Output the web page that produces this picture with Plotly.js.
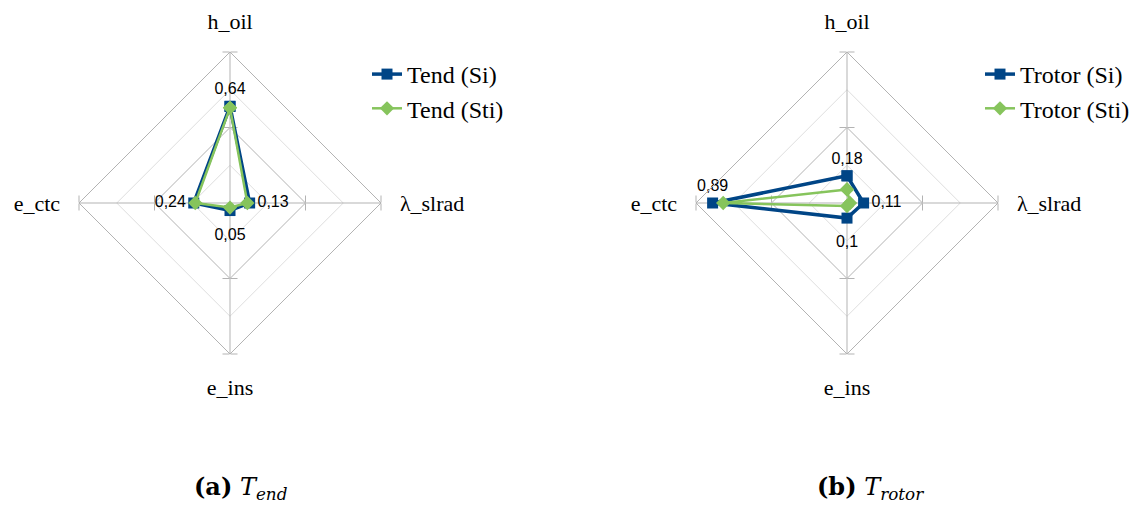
<!DOCTYPE html>
<html>
<head>
<meta charset="utf-8">
<script src="https://cdn.plot.ly/plotly-3.0.1.min.js"></script>
<style>html,body{margin:0;padding:0;background:#fff;}#chart{width:1136px;height:507px;}</style>
</head>
<body>
<div id="chart"></div>
<script>
// ---- data ----
const categories = ['h_oil', 'λ_slrad', 'e_ins', 'e_ctc'];
const tendSi = [0.64, 0.13, 0.05, 0.24];
const tendSti = [0.63, 0.115, 0.03, 0.23];
const trotorSi = [0.18, 0.11, 0.10, 0.89];
const trotorSti = [0.09, 0.02, 0.02, 0.82];
const seriesNamesLeft = ['Tend (Si)', 'Tend (Sti)'];
const seriesNamesRight = ['Trotor (Si)', 'Trotor (Sti)'];
const captions = ['<b>(a)</b> <i>T<sub>end</sub></i>', '<b>(b)</b> <i>T<sub>rotor</sub></i>'];

// ---- style ----
const BLUE = '#004586', GREEN = '#86c45c';
const DARK = '#b3b3b3', LIGHT = '#dedede';
const W = 1136, H = 507, R = 151;
const centers = [[230, 203], [847, 203]];
const serif = 'Liberation Serif, Times New Roman, serif';
const capSerif = 'DejaVu Serif, serif';
const sans = 'Liberation Sans, Arial, sans-serif';

function fmt(v) { return String(v).replace('.', ','); }
function closed(a) { return a.concat([a[0]]); }

const data = [];
const layout = {
  width: W, height: H, margin: {l: 0, r: 0, t: 0, b: 0},
  paper_bgcolor: '#fff', showlegend: true, annotations: []
};

let pid = 1;
function pname(n) { return n === 1 ? 'polar' : 'polar' + n; }
function dummy(id) {
  return {type: 'scatterpolar', r: categories.map(() => 0), theta: categories.slice(), subplot: id,
    mode: 'markers', marker: {size: 1, opacity: 0}, showlegend: false, hoverinfo: 'skip'};
}

function buildChart(ci, si, sti, names, labelPos, legendKey, legendX) {
  const [cx, cy] = centers[ci];
  const domain = {x: [(cx - R) / W, (cx + R) / W], y: [1 - (cy + R) / H, 1 - (cy - R) / H]};
  const angBase = {type: 'category', categoryorder: 'array', categoryarray: categories, direction: 'clockwise', rotation: 90};
  // light grid polar
  let id = pname(pid++);
  layout[id] = {
    domain: domain, gridshape: 'linear', bgcolor: 'rgba(0,0,0,0)',
    radialaxis: {range: [0, 1], tickvals: [0.25, 0.75], showticklabels: false, ticks: '', showline: false, gridcolor: LIGHT, gridwidth: 1},
    angularaxis: Object.assign({}, angBase, {showgrid: false, showline: false, showticklabels: false, ticks: ''})
  };
  data.push(dummy(id));
  // tick overlays
  [0, 90, 180, 270].forEach(a => {
    ['clockwise', 'counterclockwise'].forEach(side => {
      const tid = pname(pid++);
      layout[tid] = {
        domain: domain, gridshape: 'linear', bgcolor: 'rgba(0,0,0,0)',
        radialaxis: {range: [0, 1], angle: a, side: side, tickvals: [0.5, 1], ticks: 'outside', ticklen: 7, tickwidth: 1, tickcolor: DARK, showticklabels: false, showline: false, showgrid: false},
        angularaxis: Object.assign({}, angBase, {showgrid: false, showline: false, showticklabels: false, ticks: ''})
      };
      data.push(dummy(tid));
    });
  });
  // main polar
  id = pname(pid++);
  layout[id] = {
    domain: domain, gridshape: 'linear', bgcolor: 'rgba(0,0,0,0)',
    radialaxis: {range: [0, 1], tickvals: [0.5, 1], showticklabels: false, ticks: '', showline: false, gridcolor: DARK, gridwidth: 1},
    angularaxis: Object.assign({}, angBase, {
      showgrid: true, gridcolor: DARK, gridwidth: 1, showline: true, linecolor: DARK, linewidth: 1,
      ticks: 'outside', ticklen: 14, tickcolor: 'rgba(0,0,0,0)',
      tickfont: {family: serif, size: 22, color: '#000'}
    })
  };
  const th = closed(categories);
  data.push({
    type: 'scatterpolar', subplot: id, name: names[0], legend: legendKey, legendgroup: names[0],
    r: closed(si), theta: th, mode: 'lines+markers',
    line: {color: BLUE, width: 3.5}, marker: {symbol: 'square', size: 11, color: BLUE}
  });
  data.push({
    type: 'scatterpolar', subplot: id, name: names[1], legend: legendKey, legendgroup: names[1],
    r: closed(sti), theta: th, mode: 'lines+markers',
    line: {color: GREEN, width: 2.5}, marker: {symbol: 'diamond', size: 11, color: GREEN}
  });
  // value labels of the Si series (invisible markers only set the label offset)
  data.push({
    type: 'scatterpolar', subplot: id, showlegend: false, hoverinfo: 'skip',
    r: si, theta: categories, mode: 'markers+text',
    marker: {size: labelPos.map(p => p.indexOf('bottom') === 0 ? 26 : 11), opacity: 0},
    text: si.map(fmt), textposition: labelPos,
    textfont: {family: sans, size: 16, color: '#000'}
  });
  layout[legendKey] = {
    x: legendX / W, y: 1 - 52 / H, xanchor: 'left', yanchor: 'top',
    font: {family: serif, size: 24, color: '#000'}, bgcolor: 'rgba(0,0,0,0)',
    traceorder: 'grouped', tracegroupgap: 0
  };
}

buildChart(0, tendSi, tendSti, seriesNamesLeft,
  ['top center', 'middle right', 'bottom center', 'middle left'], 'legend', 367);
buildChart(1, trotorSi, trotorSti, seriesNamesRight,
  ['top center', 'middle right', 'bottom center', 'top center'], 'legend2', 980);

layout.annotations.push(
  {text: captions[0], x: 241 / W, y: 1 - 488 / H, xref: 'paper', yref: 'paper', xanchor: 'center', yanchor: 'middle', showarrow: false,
   font: {family: capSerif, size: 24, color: '#000'}},
  {text: captions[1], x: 870 / W, y: 1 - 488 / H, xref: 'paper', yref: 'paper', xanchor: 'center', yanchor: 'middle', showarrow: false,
   font: {family: capSerif, size: 24, color: '#000'}}
);

Plotly.newPlot('chart', data, layout, {displayModeBar: false, staticPlot: true});
</script>
</body>
</html>
